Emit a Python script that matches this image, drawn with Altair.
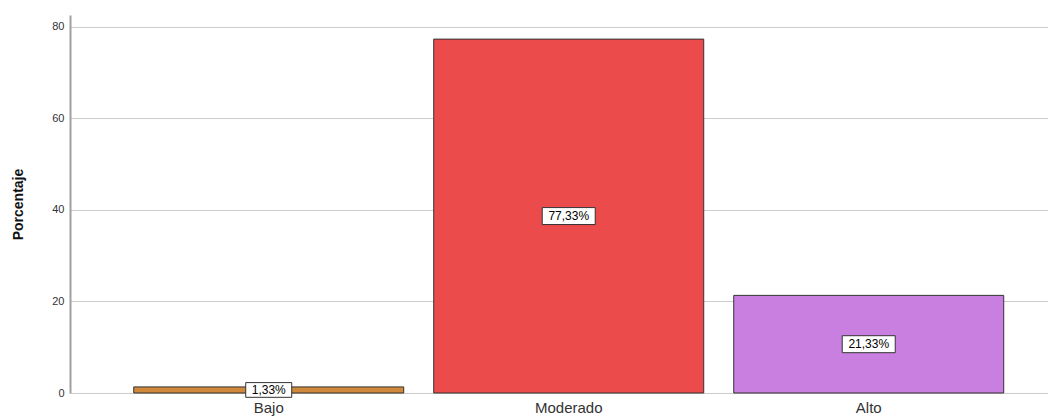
import altair as alt
import pandas as pd

categories = ["Bajo", "Moderado", "Alto"]
values = [1.33, 77.33, 21.33]
labels = ["1,33%", "77,33%", "21,33%"]
colors = ["#D0883A", "#EB4B4B", "#C97FE0"]
box_sizes = [2116, 2809, 2809]

df = pd.DataFrame({
    "cat": categories,
    "val": values,
    "mid": [v / 2 for v in values],
    "lab": labels,
    "box": box_sizes,
})

x = alt.X("cat:N", sort=categories, title=None,
          scale=alt.Scale(paddingInner=0.1, paddingOuter=0.18, align=0.59),
          axis=alt.Axis(labelAngle=0, labelFontSize=15, labelColor="#333333",
                        labelFont="Liberation Sans", ticks=False, domain=False,
                        labelPadding=7))

bars = alt.Chart(df).mark_bar(stroke="#333333", strokeWidth=1).encode(
    x=x,
    y=alt.Y("val:Q", title="Porcentaje",
            scale=alt.Scale(domain=[0, 82.6], nice=False),
            axis=alt.Axis(values=[0, 20, 40, 60, 80], labelFontSize=11,
                          labelColor="#333333", labelFont="Liberation Sans",
                          ticks=False, labelPadding=6, domainColor="#A0A0A0",
                          domainWidth=2, gridColor="#CCCCCC",
                          titleFont="Liberation Sans", titleFontSize=14,
                          titleFontWeight="bold", titleColor="#111111",
                          titlePadding=26)),
    color=alt.Color("cat:N", scale=alt.Scale(domain=categories, range=colors), legend=None),
)

boxes = alt.Chart(df).mark_point(
    shape="M-1,-0.32L1,-0.32L1,0.32L-1,0.32Z", filled=True, fill="white",
    stroke="#333333", strokeWidth=1, opacity=1
).encode(
    x=alt.X("cat:N", sort=categories),
    y=alt.Y("mid:Q"),
    size=alt.Size("box:Q", scale=None),
)

texts = alt.Chart(df).mark_text(fontSize=12, font="Liberation Sans", color="#000000").encode(
    x=alt.X("cat:N", sort=categories),
    y=alt.Y("mid:Q"),
    text="lab:N",
)

chart = alt.layer(bars, boxes, texts).properties(
    width=978, height=378,
    autosize=alt.AutoSizeParams(type="none"),
    padding={"left": 62, "top": 7, "right": 0, "bottom": 24},
).configure_view(stroke=None).configure_axisX(grid=False)

chart.save("out.html", embed_options={"renderer": "svg", "actions": False})
